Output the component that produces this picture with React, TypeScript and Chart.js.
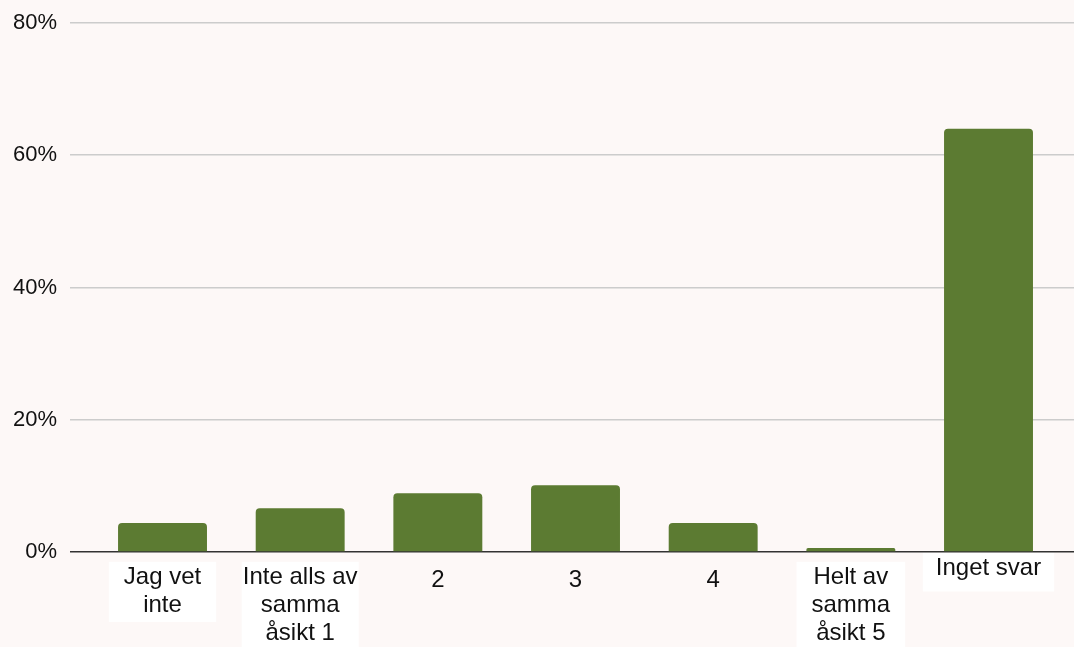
import React, { useEffect, useRef } from "react";
import { Chart, registerables } from "chart.js";

Chart.register(...registerables);

const categories: string[][] = [
  ["Jag vet", "inte"],
  ["Inte alls av", "samma", "åsikt 1"],
  ["2"],
  ["3"],
  ["4"],
  ["Helt av", "samma", "åsikt 5"],
  ["Inget svar"],
];
const values: number[] = [4.4, 6.6, 8.9, 10.1, 4.4, 0.6, 64.0];
const yTicks: number[] = [0, 20, 40, 60, 80];

const BG = "#fdf8f7";
const BAR = "#5c7b32";
const FONT = "'Liberation Sans', Arial, sans-serif";
const XFONT = 24;
const XPAD = 4;

// per-label line height (px) so first lines land like the reference
function lineHeightFor(i: number): number {
  const lines = categories[i];
  if (lines.length > 1) return 27.6;
  if (lines[0].length > 1) return 9;
  return 33.6;
}

const labelBoxes = {
  id: "labelBoxes",
  beforeDraw(chart: any) {
    const scale = chart.scales.x;
    const ctx = chart.ctx;
    ctx.save();
    ctx.font = `${XFONT}px ${FONT}`;
    ctx.fillStyle = "#ffffff";
    categories.forEach((lines, i) => {
      if (lines.length === 1 && lines[0].length <= 1) return;
      const x = scale.getPixelForValue(i);
      const lh = lineHeightFor(i);
      const firstCenter = scale.top + XPAD + lh / 2;
      const maxW = Math.max(...lines.map((l) => ctx.measureText(l).width));
      const w = lines.length > 1 ? Math.min(maxW + 30, 117) : maxW + 26;
      const top = firstCenter - 8;
      const h = lines.length > 1 ? lines.length * 27.6 + 5 : 39;
      ctx.fillRect(x - w / 2, top, w, h);
    });
    ctx.restore();
  },
};

export default function App() {
  const ref = useRef<HTMLCanvasElement | null>(null);

  useEffect(() => {
    document.body.style.margin = "0";
    document.body.style.background = BG;
    if (!ref.current) return;
    const chart = new Chart(ref.current, {
      type: "bar",
      data: {
        datasets: [
          {
            data: values.map((v, i) => ({ x: i, y: v })),
            backgroundColor: BAR,
            borderRadius: 4,
            barPercentage: 0.646,
            categoryPercentage: 1,
          },
        ],
      },
      plugins: [labelBoxes],
      options: {
        animation: false,
        responsive: true,
        maintainAspectRatio: false,
        layout: { padding: { top: 22, right: 0, left: 0, bottom: 0 } },
        plugins: { legend: { display: false }, tooltip: { enabled: false } },
        scales: {
          x: {
            type: "linear",
            offset: false,
            min: -0.672,
            max: 6.621,
            grid: { display: false, offset: false },
            border: { display: false },
            afterBuildTicks: (scale: any) => {
              scale.ticks = categories.map((_, i) => ({ value: i }));
            },
            afterFit: (scale: any) => {
              scale.height = 95;
            },
            ticks: {
              autoSkip: false,
              maxRotation: 0,
              minRotation: 0,
              padding: XPAD,
              color: "#111",
              font: (ctx: any) => ({
                family: FONT,
                size: XFONT,
                lineHeight: lineHeightFor(ctx.index ?? 0) + "px",
              }),
              callback: (v: any) => categories[Math.round(Number(v))] ?? "",
            },
          },
          y: {
            min: 0,
            max: 80,
            border: { display: false },
            afterBuildTicks: (scale: any) => {
              scale.ticks = yTicks.map((v) => ({ value: v }));
            },
            afterFit: (scale: any) => {
              scale.width = 70;
            },
            grid: {
              drawTicks: false,
              color: (ctx: any) => (ctx.tick && ctx.tick.value === 0 ? "#333333" : "#cccccc"),
              lineWidth: 1.5,
            },
            ticks: {
              padding: 13,
              color: "#111",
              font: { family: FONT, size: 22, lineHeight: 0.9 },
              callback: (v: any) => v + "%",
            },
          },
        },
      },
    } as any);
    return () => chart.destroy();
  }, []);

  return (
    <div style={{ width: 1074, height: 647, background: BG, position: "relative" }}>
      <canvas ref={ref} />
    </div>
  );
}
